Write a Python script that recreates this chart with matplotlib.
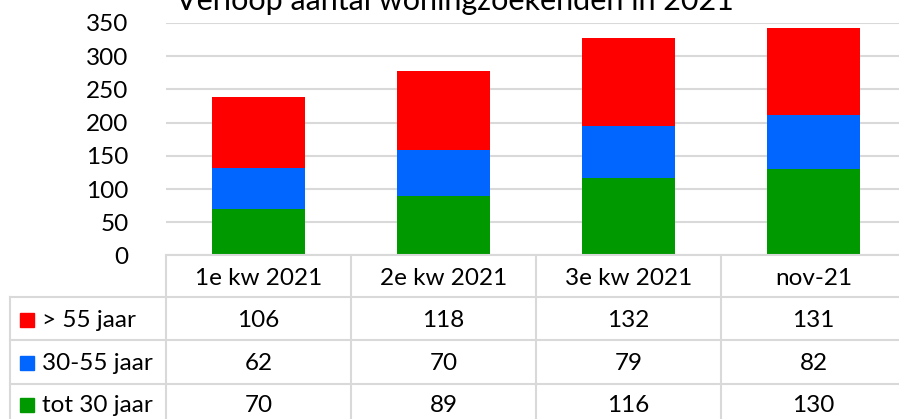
import numpy as np
import matplotlib.pyplot as plt
from matplotlib.patches import Rectangle

# data
periodes = ['1e kw 2021', '2e kw 2021', '3e kw 2021', 'nov-21']
reeksen = ['> 55 jaar', '30-55 jaar', 'tot 30 jaar']
boven_55 = [106, 118, 132, 131]
tussen_30_55 = [62, 70, 79, 82]
tot_30 = [70, 89, 116, 130]
kleuren = ['#FF0000', '#0066FF', '#009900']
yticks = [0, 50, 100, 150, 200, 250, 300, 350]

W, H = 899, 419
GRIJS = '#d9d9d9'
plt.rcParams['font.family'] = ['Lato', 'DejaVu Sans']

fig = plt.figure(figsize=(W / 100, H / 100), dpi=100)

def fx(px):
    return px / W

def fy(py):
    return 1 - py / H

# chart area (pixels of the reference)
links, rechts, boven, onder = 166, 906, 23, 255.5
kolom = (rechts - links) / len(periodes)

ax = fig.add_axes([fx(links), fy(onder), (rechts - links) / W, (onder - boven) / H])
x = np.arange(len(periodes))
ax.bar(x, tot_30, 0.5, color=kleuren[2], zorder=3)
ax.bar(x, tussen_30_55, 0.5, bottom=tot_30, color=kleuren[1], zorder=3)
onder2 = np.array(tot_30) + np.array(tussen_30_55)
ax.bar(x, boven_55, 0.5, bottom=onder2, color=kleuren[0], zorder=3)
ax.set_xlim(-0.5, len(periodes) - 0.5)
ax.set_ylim(0, 350)
ax.set_yticks(yticks)
ax.set_xticks([])
ax.yaxis.grid(True, color=GRIJS, lw=1.5)
ax.set_axisbelow(True)
for s in ['top', 'right', 'left']:
    ax.spines[s].set_visible(False)
ax.spines['bottom'].set_color(GRIJS)
ax.spines['bottom'].set_linewidth(1.5)
ax.spines['bottom'].set_zorder(4)
ax.tick_params(axis='y', length=0, pad=27, labelsize=17.5, labelcolor='#000000')

# title is cut off at the top, as in the original
fig.text(fx(455), fy(10), 'Verloop aantal woningzoekenden in 2021',
         ha='center', va='baseline', fontsize=22)

# data table below the chart
tab_links = 10
xl = -0.5 - (links - tab_links) / kolom
xr = len(periodes) - 0.5
at = fig.add_axes([fx(tab_links), 0, (rechts - tab_links) / W, (H - onder) / H])
at.set_xlim(xl, xr)
at.set_ylim(H, onder)
at.axis('off')

rij_grenzen = [onder, 297, 340, 384, 427]
for k in range(len(periodes) + 1):
    at.plot([-0.5 + k, -0.5 + k], [onder, H], color=GRIJS, lw=1.5, clip_on=False)
at.plot([xl, xl], [rij_grenzen[1], H], color=GRIJS, lw=1.5, clip_on=False)
for yb in rij_grenzen[1:4]:
    at.plot([xl, xr], [yb, yb], color=GRIJS, lw=1.5, clip_on=False)

for i, p in enumerate(periodes):
    at.text(i, 278, p, ha='center', va='center', fontsize=17.5)

waarden = [boven_55, tussen_30_55, tot_30]
rij_midden = [320, 363, 405]
for r, (naam, rij, kl) in enumerate(zip(reeksen, waarden, kleuren)):
    ym = rij_midden[r]
    at.add_patch(Rectangle((xl + 10 / kolom, ym - 7), 14 / kolom, 14,
                           color=kl, clip_on=False))
    at.text(xl + 32 / kolom, ym, naam, ha='left', va='center', fontsize=17.5)
    for i, v in enumerate(rij):
        at.text(i, ym, str(v), ha='center', va='center', fontsize=17.5)

fig.savefig('out.png', dpi=100)
